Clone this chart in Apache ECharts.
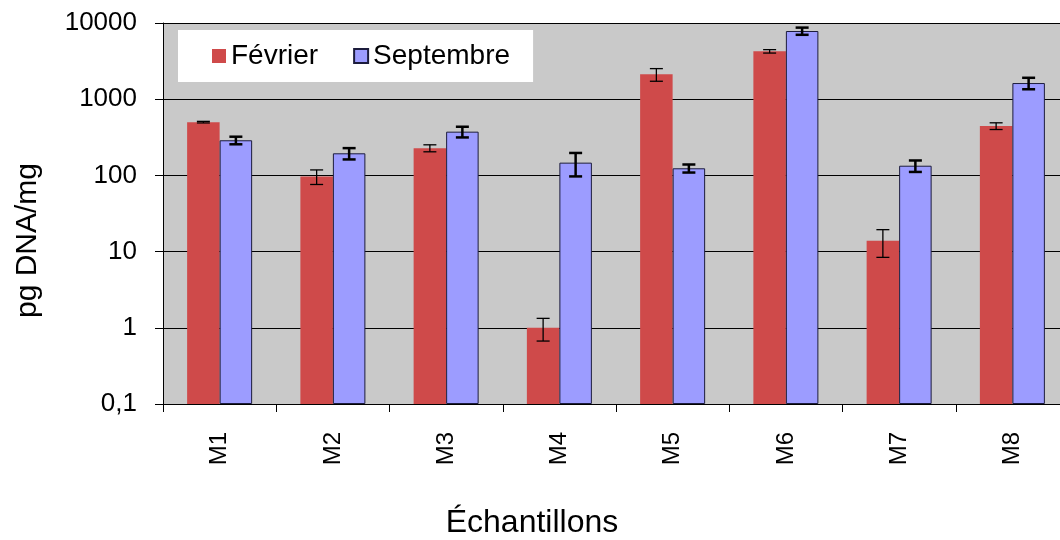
<!DOCTYPE html>
<html>
<head>
<meta charset="utf-8">
<script src="https://cdn.jsdelivr.net/npm/echarts@6/dist/echarts.min.js"></script>
<style>
html,body{margin:0;padding:0;background:#fff;}
#chart{width:1060px;height:540px;}
</style>
</head>
<body>
<div id="chart"></div>
<script>
var categories = ['M1','M2','M3','M4','M5','M6','M7','M8'];
var fevrier = [500, 97, 228, 1.0, 2120, 4250, 13.9, 445];
var fevrierErr = [12, 21, 24, 0.33, 400, 220, 5.5, 45];
var septembre = [289, 195, 375, 147, 124, 7850, 134, 1630];
var septembreErr = [33, 33, 60, 50, 15, 850, 23, 280];
var yTickLabels = ['0,1','1','10','100','1000','10000'];
var seriesNames = ['Février','Septembre'];

var BAR_W = 32.5;
var FONT = '"Liberation Sans", Arial, sans-serif';

function errData(vals, errs){
  return vals.map(function(v,i){ return [i, v, errs[i]]; });
}
function errRender(offsetSign, lw){
  return function(params, api){
    var idx = api.value(0), v = api.value(1), e = api.value(2);
    var hi = api.coord([idx, v + e]);
    var lo = api.coord([idx, v - e]);
    var x = hi[0] + offsetSign * BAR_W / 2;
    var cap = 6.5;
    var st = {stroke:'#000', lineWidth: lw};
    return {type:'group', children:[
      {type:'line', shape:{x1:x,y1:hi[1],x2:x,y2:lo[1]}, style:st},
      {type:'line', shape:{x1:x-cap,y1:hi[1],x2:x+cap,y2:hi[1]}, style:st},
      {type:'line', shape:{x1:x-cap,y1:lo[1],x2:x+cap,y2:lo[1]}, style:st}
    ]};
  };
}

var chart = echarts.init(document.getElementById('chart'));
chart.setOption({
  backgroundColor:'#fff',
  animation:false,
  textStyle:{fontFamily:FONT},
  grid:{left:163, top:23, bottom:136, right:-9, show:true, backgroundColor:'#c9c9c9', borderWidth:0,
        containLabel:false, outerBoundsMode:'none'},
  legend:{
    data:seriesNames,
    icon:'rect',
    left:178, top:30,
    padding:[12,23,12,34],
    itemWidth:14, itemHeight:14, itemGap:35,
    backgroundColor:'#fff',
    textStyle:{fontSize:28, color:'#000', fontFamily:FONT, lineHeight:28}
  },
  xAxis:{
    type:'category', data:categories,
    name:'Échantillons', nameLocation:'middle', nameGap:103,
    nameTextStyle:{fontSize:32, color:'#000', fontFamily:FONT, padding:[0,168,0,0]},
    axisLine:{lineStyle:{color:'#000', width:1}},
    axisTick:{show:true, length:8, lineStyle:{color:'#000'}},
    axisLabel:{rotate:90, fontSize:24, color:'#000', margin:28, fontFamily:FONT}
  },
  yAxis:{
    type:'log', logBase:10, min:0.1, max:10000, startValue:0.1,
    name:'pg DNA/mg', nameLocation:'middle', nameGap:120, nameRotate:90,
    nameTextStyle:{fontSize:30, color:'#000', fontFamily:FONT, padding:[0,54,0,0]},
    axisLine:{show:true, lineStyle:{color:'#000', width:1}},
    axisTick:{show:true, length:8, lineStyle:{color:'#000'}},
    axisLabel:{fontSize:26, color:'#000', margin:26, fontFamily:FONT,
      formatter:function(v){ var k = Math.round(Math.log10(v)) + 1; return yTickLabels[k] || ''; }},
    splitLine:{show:true, lineStyle:{color:'#000', width:1}}
  },
  series:[
    {name:seriesNames[0], type:'bar', data:fevrier, barWidth:BAR_W, barGap:'0%',
     itemStyle:{color:'#cf4a4a', borderWidth:0}},
    {name:seriesNames[1], type:'bar', data:septembre, barWidth:BAR_W, barGap:'0%',
     itemStyle:{color:'#9c9cff', borderColor:'#1c1c3c', borderWidth:1}},
    {type:'custom', data:errData(fevrier, fevrierErr), renderItem:errRender(-1, 1.3),
     encode:{x:0,y:1}, z:10, silent:true},
    {type:'custom', data:errData(septembre, septembreErr), renderItem:errRender(1, 2.5),
     encode:{x:0,y:1}, z:10, silent:true}
  ]
});
</script>
</body>
</html>
